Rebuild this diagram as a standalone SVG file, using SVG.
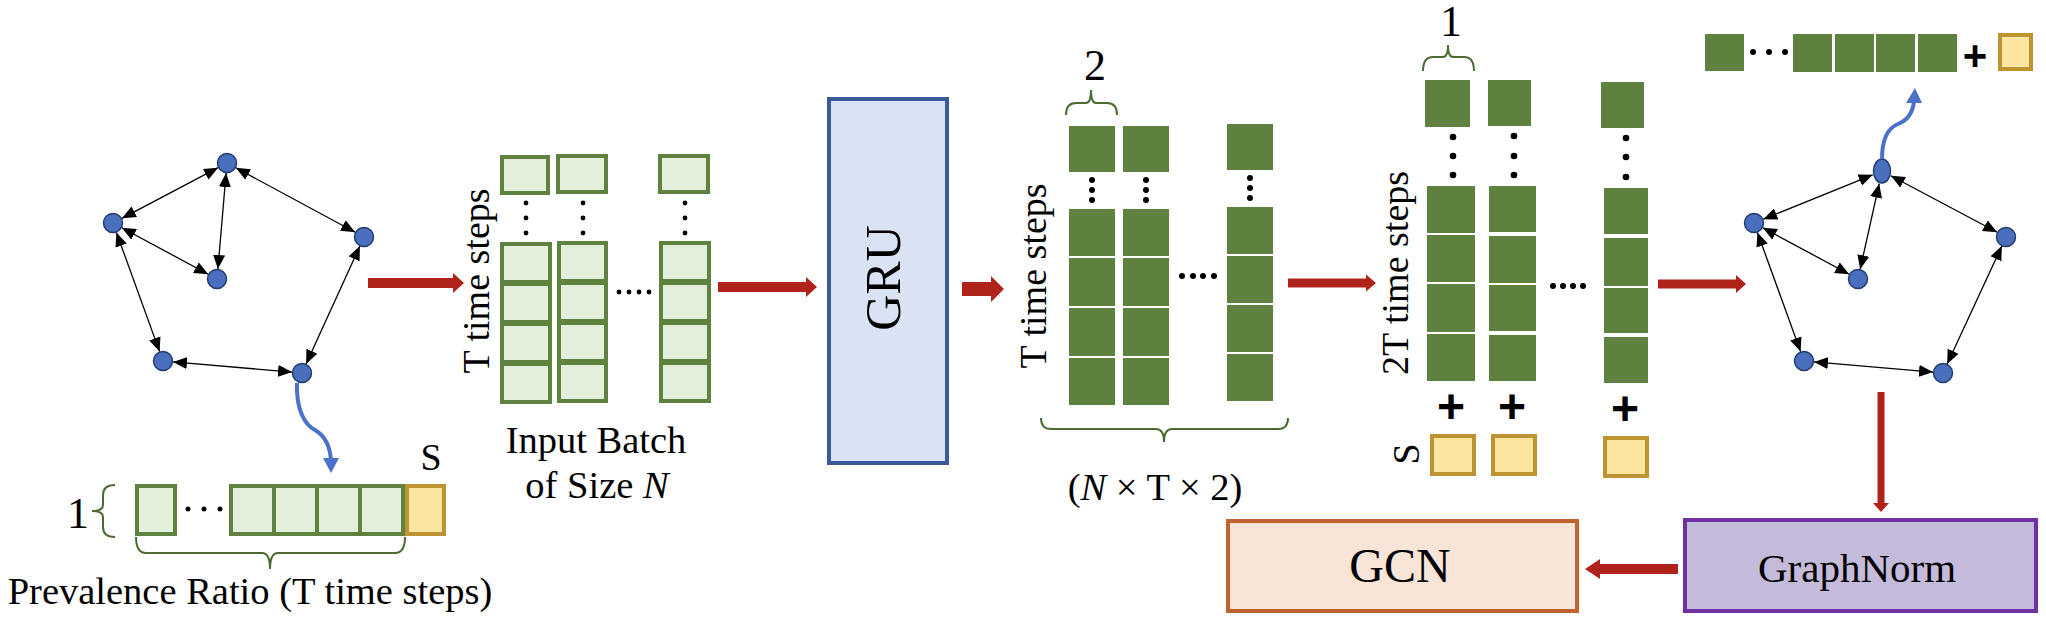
<svg xmlns="http://www.w3.org/2000/svg" width="2046" height="622" viewBox="0 0 2046 622">
<defs>
<marker id="ah" markerUnits="userSpaceOnUse" markerWidth="14" markerHeight="12" refX="14" refY="6" orient="auto-start-reverse"><path d="M0,0 L14,6 L0,12 z" fill="#000"/></marker>
<style>
.t{font-family:'Liberation Serif','Times New Roman','DejaVu Serif',serif;fill:#000}
.lg{fill:#e2efda;stroke:#5f823e;stroke-width:4}
.dg{fill:#5f813f}
.yl{fill:#fbe5a1;stroke:#bf9232;stroke-width:4}
.nd{fill:#4a6fbe;stroke:#223d6b;stroke-width:1.5}
.ed{stroke:#000;stroke-width:1.3;fill:none;marker-start:url(#ah);marker-end:url(#ah)}
.ra{fill:#b0231a}
.br{fill:none;stroke:#4b6b31;stroke-width:2}
.dt{fill:#000}
.bl{fill:none;stroke:#4a72c8;stroke-width:4}
.pl{font-family:'Liberation Sans',Arial,sans-serif;font-weight:bold;fill:#000}
</style>
</defs>
<rect width="2046" height="622" fill="#fff"/>

<!-- Graph 1 -->
<g id="graph1">
<g id="g1-edges">
<line class="ed" x1="218.1" y1="167.7" x2="121.9" y2="218.3"/>
<line class="ed" x1="226.1" y1="173" x2="217.9" y2="269"/>
<line class="ed" x1="235.8" y1="167.8" x2="355.2" y2="232.2"/>
<line class="ed" x1="121.8" y1="227.7" x2="208.2" y2="274.3"/>
<line class="ed" x1="116.4" y1="232.4" x2="159.6" y2="351.6"/>
<line class="ed" x1="173" y1="361.9" x2="292" y2="372.1"/>
<line class="ed" x1="359.9" y1="246.1" x2="306.1" y2="363.9"/>
</g>
<circle class="nd" cx="227" cy="163" r="9.5"/>
<circle class="nd" cx="113" cy="223" r="9.5"/>
<circle class="nd" cx="364" cy="237" r="9.5"/>
<circle class="nd" cx="217" cy="279" r="9.5"/>
<circle class="nd" cx="163" cy="361" r="9.5"/>
<circle class="nd" cx="302" cy="373" r="9.5"/>
</g>

<!-- Prevalence ratio -->
<g id="prevalence">
<text class="t" font-family="Liberation Serif, DejaVu Serif, serif" x="78" y="528" font-size="44" text-anchor="middle">1</text>
<path class="br" d="M115,485 Q103,485 103,495 L103,505 Q103,511 92,511 Q103,511 103,517 L103,527 Q103,537 115,537"/>
<rect class="lg" x="137" y="486" width="38" height="48"/>
<circle class="dt" cx="188" cy="509" r="2.5"/>
<circle class="dt" cx="204" cy="509" r="2.5"/>
<circle class="dt" cx="220" cy="509" r="2.5"/>
<rect class="lg" x="231" y="486" width="43" height="48"/>
<rect class="lg" x="274" y="486" width="43" height="48"/>
<rect class="lg" x="317" y="486" width="43" height="48"/>
<rect class="lg" x="360" y="486" width="43" height="48"/>
<rect class="yl" x="407" y="486" width="37" height="48"/>
<text class="t" font-family="Liberation Serif, DejaVu Serif, serif" x="431" y="470" font-size="38" text-anchor="middle">S</text>
<path class="br" d="M136,537 Q136,553 146,553 L262,553 Q270,553 270,569 Q270,553 278,553 L395,553 Q405,553 405,537"/>
<text class="t" font-family="Liberation Serif, DejaVu Serif, serif" x="250" y="604" font-size="38.5" text-anchor="middle">Prevalence Ratio (T time steps)</text>
</g>

<!-- Input batch -->
<g id="input-batch">
<text class="t" font-family="Liberation Serif, DejaVu Serif, serif" font-size="38" text-anchor="middle" transform="translate(489,281) rotate(-90)">T time steps</text>
<rect class="lg" x="502" y="157" width="46" height="36"/>
<rect class="lg" x="558" y="156" width="48" height="36"/>
<rect class="lg" x="660" y="156" width="48" height="36"/>
<circle class="dt" cx="526" cy="203" r="2.4"/><circle class="dt" cx="526" cy="218" r="2.4"/><circle class="dt" cx="526" cy="233" r="2.4"/>
<circle class="dt" cx="583" cy="203" r="2.4"/><circle class="dt" cx="583" cy="218" r="2.4"/><circle class="dt" cx="583" cy="233" r="2.4"/>
<circle class="dt" cx="685" cy="203" r="2.4"/><circle class="dt" cx="685" cy="218" r="2.4"/><circle class="dt" cx="685" cy="233" r="2.4"/>
<rect class="lg" x="502" y="244" width="48" height="38"/>
<rect class="lg" x="502" y="284" width="48" height="38"/>
<rect class="lg" x="502" y="324" width="48" height="38"/>
<rect class="lg" x="502" y="364" width="48" height="38"/>
<rect class="lg" x="559" y="243" width="47" height="38"/>
<rect class="lg" x="559" y="283" width="47" height="38"/>
<rect class="lg" x="559" y="323" width="47" height="38"/>
<rect class="lg" x="559" y="363" width="47" height="38"/>
<rect class="lg" x="661" y="243" width="48" height="38"/>
<rect class="lg" x="661" y="283" width="48" height="38"/>
<rect class="lg" x="661" y="323" width="48" height="38"/>
<rect class="lg" x="661" y="363" width="48" height="38"/>
<circle class="dt" cx="619" cy="292" r="2.4"/><circle class="dt" cx="629" cy="292" r="2.4"/><circle class="dt" cx="639" cy="292" r="2.4"/><circle class="dt" cx="649" cy="292" r="2.4"/>
<text class="t" font-family="Liberation Serif, DejaVu Serif, serif" x="596" y="453" font-size="38.5" text-anchor="middle">Input Batch</text>
<text class="t" font-family="Liberation Serif, DejaVu Serif, serif" x="597" y="498" font-size="38.5" text-anchor="middle">of Size <tspan font-style="italic">N</tspan></text>
</g>

<!-- GRU -->
<g id="gru">
<rect x="829" y="99" width="118" height="364" fill="#dae3f3" stroke="#3c5a9a" stroke-width="4"/>
<text class="t" font-family="Liberation Serif, DejaVu Serif, serif" font-size="50" text-anchor="middle" transform="translate(900,278) rotate(-90)">GRU</text>
</g>

<!-- GRU output -->
<g id="gru-output">
<text class="t" font-family="Liberation Serif, DejaVu Serif, serif" x="1095" y="80" font-size="44" text-anchor="middle">2</text>
<path class="br" d="M1066,115 Q1066,103 1076,103 L1086,103 Q1091,103 1091,90 Q1091,103 1096,103 L1107,103 Q1117,103 1117,115"/>
<text class="t" font-family="Liberation Serif, DejaVu Serif, serif" font-size="38" text-anchor="middle" transform="translate(1046,276) rotate(-90)">T time steps</text>
<rect class="dg" x="1069" y="126" width="46" height="46"/>
<rect class="dg" x="1123" y="126" width="46" height="46"/>
<rect class="dg" x="1227" y="124" width="46" height="46"/>
<circle class="dt" cx="1092" cy="180" r="3"/><circle class="dt" cx="1092" cy="190" r="3"/><circle class="dt" cx="1092" cy="200" r="3"/>
<circle class="dt" cx="1146" cy="180" r="3"/><circle class="dt" cx="1146" cy="190" r="3"/><circle class="dt" cx="1146" cy="200" r="3"/>
<circle class="dt" cx="1250" cy="178" r="3"/><circle class="dt" cx="1250" cy="188" r="3"/><circle class="dt" cx="1250" cy="198" r="3"/>
<rect class="dg" x="1069" y="209" width="46" height="47"/>
<rect class="dg" x="1069" y="258" width="46" height="48"/>
<rect class="dg" x="1069" y="308" width="46" height="48"/>
<rect class="dg" x="1069" y="358" width="46" height="47"/>
<rect class="dg" x="1123" y="209" width="46" height="47"/>
<rect class="dg" x="1123" y="258" width="46" height="48"/>
<rect class="dg" x="1123" y="308" width="46" height="48"/>
<rect class="dg" x="1123" y="358" width="46" height="47"/>
<rect class="dg" x="1227" y="207" width="46" height="47"/>
<rect class="dg" x="1227" y="256" width="46" height="47"/>
<rect class="dg" x="1227" y="305" width="46" height="47"/>
<rect class="dg" x="1227" y="354" width="46" height="47"/>
<circle class="dt" cx="1182" cy="276" r="3"/><circle class="dt" cx="1193" cy="276" r="3"/><circle class="dt" cx="1203" cy="276" r="3"/><circle class="dt" cx="1214" cy="276" r="3"/>
<path class="br" d="M1041,418 Q1041,429 1051,429 L1156,429 Q1164,429 1164,442 Q1164,429 1172,429 L1278,429 Q1288,429 1288,418"/>
<text class="t" font-family="Liberation Serif, DejaVu Serif, serif" x="1155" y="500" font-size="38.5" text-anchor="middle">(<tspan font-style="italic">N</tspan> × T × 2)</text>
</g>

<!-- 2T output with S -->
<g id="concat-output">
<text class="t" font-family="Liberation Serif, DejaVu Serif, serif" x="1451" y="36" font-size="44" text-anchor="middle">1</text>
<path class="br" d="M1423,71 Q1423,57 1433,57 L1443,57 Q1448,57 1448,45 Q1448,57 1453,57 L1464,57 Q1474,57 1474,71"/>
<text class="t" font-family="Liberation Serif, DejaVu Serif, serif" font-size="38" text-anchor="middle" transform="translate(1408,273) rotate(-90)">2T time steps</text>
<rect class="dg" x="1425" y="80" width="45" height="47"/>
<rect class="dg" x="1488" y="80" width="43" height="46"/>
<rect class="dg" x="1601" y="82" width="43" height="46"/>
<circle class="dt" cx="1453" cy="137" r="3.3"/><circle class="dt" cx="1453" cy="156" r="3.3"/><circle class="dt" cx="1453" cy="175" r="3.3"/>
<circle class="dt" cx="1514" cy="136" r="3.3"/><circle class="dt" cx="1514" cy="156" r="3.3"/><circle class="dt" cx="1514" cy="175" r="3.3"/>
<circle class="dt" cx="1626" cy="138" r="3.3"/><circle class="dt" cx="1626" cy="157" r="3.3"/><circle class="dt" cx="1626" cy="177" r="3.3"/>
<rect class="dg" x="1427" y="186" width="48" height="47"/>
<rect class="dg" x="1427" y="235" width="48" height="47"/>
<rect class="dg" x="1427" y="284" width="48" height="48"/>
<rect class="dg" x="1427" y="334" width="48" height="47"/>
<rect class="dg" x="1489" y="186" width="47" height="46"/>
<rect class="dg" x="1489" y="236" width="47" height="47"/>
<rect class="dg" x="1489" y="285" width="47" height="46"/>
<rect class="dg" x="1489" y="335" width="47" height="46"/>
<rect class="dg" x="1604" y="188" width="44" height="46"/>
<rect class="dg" x="1604" y="238" width="44" height="48"/>
<rect class="dg" x="1604" y="288" width="44" height="45"/>
<rect class="dg" x="1604" y="337" width="44" height="46"/>
<circle class="dt" cx="1553" cy="286" r="3"/><circle class="dt" cx="1563" cy="286" r="3"/><circle class="dt" cx="1573" cy="286" r="3"/><circle class="dt" cx="1583" cy="286" r="3"/>
<text class="pl" x="1451" y="423" font-size="48" text-anchor="middle">+</text>
<text class="pl" x="1512" y="423" font-size="48" text-anchor="middle">+</text>
<text class="pl" x="1625" y="425" font-size="48" text-anchor="middle">+</text>
<text class="t" font-family="Liberation Serif, DejaVu Serif, serif" font-size="38" text-anchor="middle" transform="translate(1419,454) rotate(-90)">S</text>
<rect class="yl" x="1432" y="436" width="42" height="38"/>
<rect class="yl" x="1493" y="436" width="42" height="38"/>
<rect class="yl" x="1605" y="438" width="42" height="38"/>
</g>

<!-- Top-right node feature -->
<g id="node-feature">
<rect class="dg" x="1705" y="34" width="39" height="37"/>
<circle class="dt" cx="1753" cy="52" r="3"/><circle class="dt" cx="1769" cy="52" r="3"/><circle class="dt" cx="1785" cy="52" r="3"/>
<rect class="dg" x="1793" y="34" width="39" height="38"/>
<rect class="dg" x="1835" y="34" width="39" height="38"/>
<rect class="dg" x="1876" y="34" width="39" height="38"/>
<rect class="dg" x="1918" y="34" width="39" height="38"/>
<text class="pl" x="1975" y="70" font-size="42" text-anchor="middle">+</text>
<rect class="yl" x="2000" y="35" width="31" height="34"/>
</g>

<!-- Graph 2 -->
<g id="graph2">
<g id="g2-edges">
<line class="ed" x1="1872.7" y1="174.8" x2="1763.3" y2="219.2"/>
<line class="ed" x1="1879.2" y1="183.7" x2="1860.2" y2="269.2"/>
<line class="ed" x1="1890.8" y1="175.7" x2="1997.2" y2="232.3"/>
<line class="ed" x1="1762.8" y1="227.7" x2="1849.2" y2="274.3"/>
<line class="ed" x1="1757.4" y1="232.4" x2="1800.6" y2="351.6"/>
<line class="ed" x1="1814" y1="361.9" x2="1933" y2="372.1"/>
<line class="ed" x1="2001.8" y1="246.1" x2="1947.2" y2="363.9"/>
</g>
<ellipse class="nd" cx="1882" cy="171" rx="8.5" ry="12"/>
<circle class="nd" cx="1754" cy="223" r="9.5"/>
<circle class="nd" cx="2006" cy="237" r="9.5"/>
<circle class="nd" cx="1858" cy="279" r="9.5"/>
<circle class="nd" cx="1804" cy="361" r="9.5"/>
<circle class="nd" cx="1943" cy="373" r="9.5"/>
</g>

<!-- GraphNorm -->
<g id="graphnorm">
<rect x="1685" y="520" width="351" height="91" fill="#c4bad9" stroke="#7030a0" stroke-width="4"/>
<text class="t" font-family="Liberation Serif, DejaVu Serif, serif" x="1857" y="582" font-size="41" text-anchor="middle">GraphNorm</text>
</g>

<!-- GCN -->
<g id="gcn">
<rect x="1228" y="521" width="349" height="90" fill="#f8e5d8" stroke="#c0632f" stroke-width="4"/>
<text class="t" font-family="Liberation Serif, DejaVu Serif, serif" x="1400" y="582" font-size="48" text-anchor="middle">GCN</text>
</g>

<!-- Connectors -->
<g id="connectors">
<polygon class="ra" points="368,278 453,278 453,273 464,283 453,293 453,288 368,288"/>
<polygon class="ra" points="718,282 806,282 806,277 817,287 806,297 806,292 718,292"/>
<polygon class="ra" points="962,282 991,282 991,276 1004,289 991,302 991,296 962,296"/>
<polygon class="ra" points="1288,278.5 1366,278.5 1366,274.5 1376,283 1366,291.5 1366,287.5 1288,287.5"/>
<polygon class="ra" points="1658,279.5 1736,279.5 1736,275 1746,284 1736,293 1736,288.5 1658,288.5"/>
<polygon class="ra" points="1877.5,392 1884.5,392 1884.5,503 1889,503 1881,512 1873,503 1877.5,503"/>
<polygon class="ra" points="1678,564 1600,564 1600,559 1585,569 1600,579 1600,574 1678,574"/>
<path class="bl" d="M297,383 C296,410 305,425 315,430 C325,436 330,446 331,460"/>
<polygon fill="#4a72c8" points="323,458 339,458 331,473"/>
<path class="bl" d="M1882,159 C1882,140 1888,128 1898,124 C1908,120 1913,112 1914,101"/>
<polygon fill="#4a72c8" points="1906,103 1922,103 1915,88"/>
</g>
</svg>
